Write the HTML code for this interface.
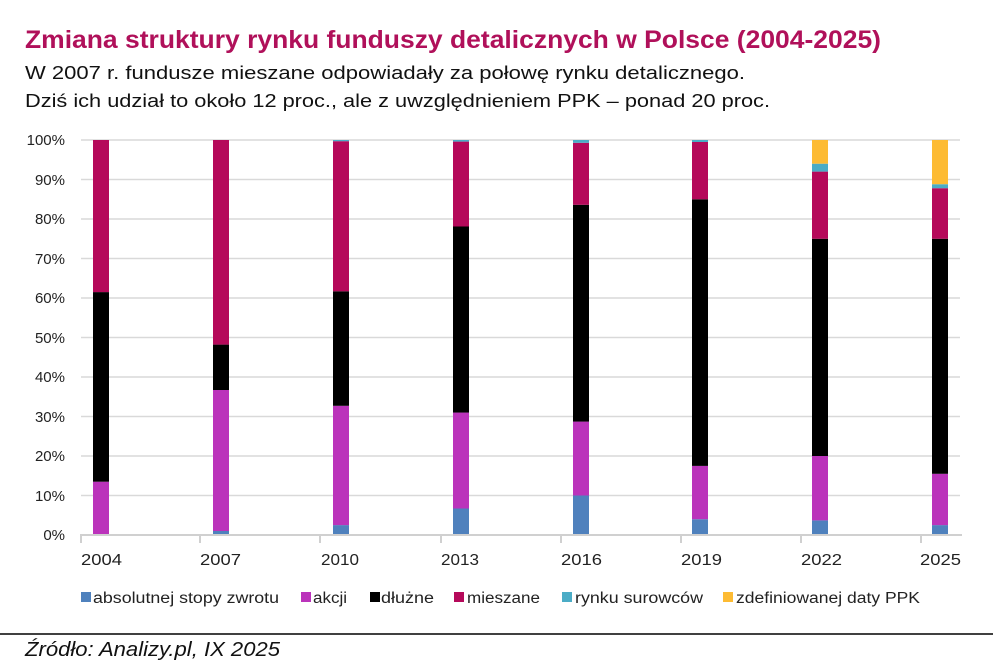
<!DOCTYPE html>
<html><head><meta charset="utf-8"><style>
html,body{margin:0;padding:0;background:#fff;}
svg{display:block;font-family:"Liberation Sans",sans-serif;}
</style></head><body>
<svg width="993" height="670" viewBox="0 0 993 670">
<text x="25" y="48" font-size="25" font-weight="bold" fill="#b0105a" textLength="856" lengthAdjust="spacingAndGlyphs">Zmiana struktury rynku funduszy detalicznych w Polsce (2004-2025)</text>
<text x="25" y="79" font-size="18.5" fill="#111" textLength="720" lengthAdjust="spacingAndGlyphs">W 2007 r. fundusze mieszane odpowiadały za połowę rynku detalicznego.</text>
<text x="25" y="107" font-size="18.5" fill="#111" textLength="745" lengthAdjust="spacingAndGlyphs">Dziś ich udział to około 12 proc., ale z uwzględnieniem PPK – ponad 20 proc.</text>
<g stroke="#d9d9d9" stroke-width="1.5">
<line x1="81" x2="960" y1="140" y2="140"/><line x1="81" x2="960" y1="179.5" y2="179.5"/>
<line x1="81" x2="960" y1="219" y2="219"/><line x1="81" x2="960" y1="258.5" y2="258.5"/>
<line x1="81" x2="960" y1="298" y2="298"/><line x1="81" x2="960" y1="337.5" y2="337.5"/>
<line x1="81" x2="960" y1="377" y2="377"/><line x1="81" x2="960" y1="416.5" y2="416.5"/>
<line x1="81" x2="960" y1="456" y2="456"/><line x1="81" x2="960" y1="495.5" y2="495.5"/>
</g>
<g font-size="15" fill="#222" text-anchor="end">
<text x="65" y="145">100%</text><text x="65" y="185">90%</text><text x="65" y="224">80%</text>
<text x="65" y="264">70%</text><text x="65" y="303">60%</text><text x="65" y="343">50%</text>
<text x="65" y="382">40%</text><text x="65" y="422">30%</text><text x="65" y="461">20%</text>
<text x="65" y="501">10%</text><text x="65" y="540">0%</text>
</g>
<g>
<rect x="93" width="16" y="481.7" height="53.3" fill="#bb33bb"/>
<rect x="93" width="16" y="292.1" height="189.6" fill="#000"/>
<rect x="93" width="16" y="140" height="152.1" fill="#b5095a"/>

<rect x="213" width="16" y="531" height="4" fill="#4f81bd"/>
<rect x="213" width="16" y="390" height="141" fill="#bb33bb"/>
<rect x="213" width="16" y="344.6" height="45.4" fill="#000"/>
<rect x="213" width="16" y="140" height="204.6" fill="#b5095a"/>

<rect x="333" width="16" y="525.1" height="9.9" fill="#4f81bd"/>
<rect x="333" width="16" y="405.8" height="119.3" fill="#bb33bb"/>
<rect x="333" width="16" y="291.3" height="114.5" fill="#000"/>
<rect x="333" width="16" y="141.2" height="150.1" fill="#b5095a"/>
<rect x="333" width="16" y="140" height="1.2" fill="#4bacc6"/>

<rect x="453" width="16" y="508.5" height="26.5" fill="#4f81bd"/>
<rect x="453" width="16" y="412.55" height="95.95" fill="#bb33bb"/>
<rect x="453" width="16" y="226.5" height="186.05" fill="#000"/>
<rect x="453" width="16" y="141.6" height="84.9" fill="#b5095a"/>
<rect x="453" width="16" y="140" height="1.6" fill="#4bacc6"/>

<rect x="573" width="16" y="495.5" height="39.5" fill="#4f81bd"/>
<rect x="573" width="16" y="421.6" height="73.9" fill="#bb33bb"/>
<rect x="573" width="16" y="204.8" height="216.8" fill="#000"/>
<rect x="573" width="16" y="142.8" height="62" fill="#b5095a"/>
<rect x="573" width="16" y="140" height="2.8" fill="#4bacc6"/>

<rect x="692" width="16" y="519.2" height="15.8" fill="#4f81bd"/>
<rect x="692" width="16" y="465.9" height="53.3" fill="#bb33bb"/>
<rect x="692" width="16" y="199.25" height="266.65" fill="#000"/>
<rect x="692" width="16" y="142" height="57.25" fill="#b5095a"/>
<rect x="692" width="16" y="140" height="2" fill="#4bacc6"/>

<rect x="812" width="16" y="520.4" height="14.6" fill="#4f81bd"/>
<rect x="812" width="16" y="456" height="64.4" fill="#bb33bb"/>
<rect x="812" width="16" y="238.75" height="217.25" fill="#000"/>
<rect x="812" width="16" y="171.6" height="67.15" fill="#b5095a"/>
<rect x="812" width="16" y="163.7" height="7.9" fill="#4bacc6"/>
<rect x="812" width="16" y="140" height="23.7" fill="#fdbb33"/>

<rect x="932" width="16" y="525.1" height="9.9" fill="#4f81bd"/>
<rect x="932" width="16" y="473.8" height="51.3" fill="#bb33bb"/>
<rect x="932" width="16" y="238.75" height="235.05" fill="#000"/>
<rect x="932" width="16" y="188.2" height="50.55" fill="#b5095a"/>
<rect x="932" width="16" y="184.2" height="4" fill="#4bacc6"/>
<rect x="932" width="16" y="140" height="44.2" fill="#fdbb33"/>
</g>
<g stroke="#d0d0d0" stroke-width="2">
<line x1="80" x2="962" y1="535" y2="535"/>
<line x1="81" x2="81" y1="535" y2="543"/><line x1="200" x2="200" y1="535" y2="543"/>
<line x1="320" x2="320" y1="535" y2="543"/><line x1="441" x2="441" y1="535" y2="543"/>
<line x1="561" x2="561" y1="535" y2="543"/><line x1="681" x2="681" y1="535" y2="543"/>
<line x1="801" x2="801" y1="535" y2="543"/><line x1="921" x2="921" y1="535" y2="543"/>
</g>
<g font-size="16" fill="#222">
<text x="81" y="565" textLength="41" lengthAdjust="spacingAndGlyphs">2004</text>
<text x="200" y="565" textLength="41" lengthAdjust="spacingAndGlyphs">2007</text>
<text x="321" y="565" textLength="38" lengthAdjust="spacingAndGlyphs">2010</text>
<text x="441" y="565" textLength="38" lengthAdjust="spacingAndGlyphs">2013</text>
<text x="561" y="565" textLength="41" lengthAdjust="spacingAndGlyphs">2016</text>
<text x="681" y="565" textLength="41" lengthAdjust="spacingAndGlyphs">2019</text>
<text x="801" y="565" textLength="41" lengthAdjust="spacingAndGlyphs">2022</text>
<text x="920" y="565" textLength="41" lengthAdjust="spacingAndGlyphs">2025</text>
</g>
<g font-size="15.5" fill="#222">
<rect x="81" y="592" width="10" height="10" fill="#4f81bd"/><text x="93" y="603" textLength="186" lengthAdjust="spacingAndGlyphs">absolutnej stopy zwrotu</text>
<rect x="301" y="592" width="10" height="10" fill="#bb33bb"/><text x="313" y="603" textLength="34" lengthAdjust="spacingAndGlyphs">akcji</text>
<rect x="370" y="592" width="10" height="10" fill="#000"/><text x="381" y="603" textLength="53" lengthAdjust="spacingAndGlyphs">dłużne</text>
<rect x="454" y="592" width="10" height="10" fill="#b5095a"/><text x="467" y="603" textLength="73" lengthAdjust="spacingAndGlyphs">mieszane</text>
<rect x="562" y="592" width="10" height="10" fill="#4bacc6"/><text x="575" y="603" textLength="128" lengthAdjust="spacingAndGlyphs">rynku surowców</text>
<rect x="723" y="592" width="10" height="10" fill="#fdbb33"/><text x="736" y="603" textLength="184" lengthAdjust="spacingAndGlyphs">zdefiniowanej daty PPK</text>
</g>
<line x1="0" x2="993" y1="634" y2="634" stroke="#000" stroke-width="1.5"/>
<text x="25" y="656" font-size="20" font-style="italic" fill="#111" textLength="255" lengthAdjust="spacingAndGlyphs">Źródło: Analizy.pl, IX 2025</text>
</svg>
</body></html>
